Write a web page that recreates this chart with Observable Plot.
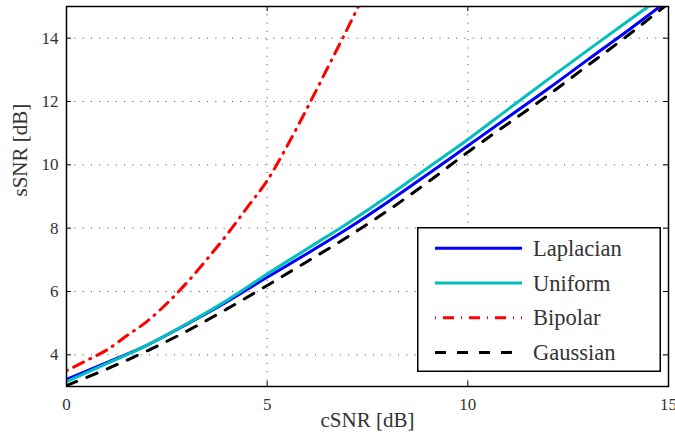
<!DOCTYPE html>
<html><head><meta charset="utf-8">
<script src="https://cdn.jsdelivr.net/npm/d3@7"></script>
<script src="https://cdn.jsdelivr.net/npm/@observablehq/plot@0.6"></script>
<style>
body{margin:0;background:#fff}
#wrap{position:relative;width:675px;height:442px}
#legend{position:absolute;left:417px;top:227px}
#wrap text{font-family:"Liberation Serif" !important}
</style>
</head><body><div id="wrap"></div>
<script>
// ---- data ----
const cSNR = [0,1,2,3,4,5,6,7,8,9,10,11,12,13,14,15];
const laplacian = [3.22,3.75,4.3,4.97,5.68,6.45,7.2,7.98,8.82,9.7,10.6,11.5,12.4,13.33,14.25,15.2];
const uniform   = [3.15,3.72,4.3,4.98,5.72,6.55,7.35,8.15,9.0,9.9,10.8,11.75,12.7,13.63,14.55,15.45];
const gaussian  = [3.03,3.55,4.12,4.75,5.45,6.19,6.95,7.72,8.55,9.45,10.4,11.3,12.2,13.15,14.1,15.1];
const bipolarX  = [0,0.5,1,1.5,2,2.5,3,3.5,4,4.5,5,5.5,6,6.5,7,7.5];
const bipolar   = [3.5,3.82,4.15,4.6,5.05,5.62,6.28,7.02,7.8,8.65,9.5,10.6,11.8,13.05,14.3,15.6];
const seriesNames = ["Laplacian","Uniform","Bipolar","Gaussian"];
const xTicks = [0,5,10,15];
const yTicks = [4,6,8,10,12,14];
const xLabel = "cSNR [dB]";
const yLabel = "sSNR [dB]";

// ---- styles ----
const colors = ["#0000ff","#00bfbf","#ff0000","#000000"];
const dashes = [null,null,"1,7,11,7","11,11"];
const W = 675, H = 442, mt = 6, mb = 56, ml = 66, mr = 7;
const fh = H - mt - mb, fw = W - ml - mr, tl = 5;
const font = "Liberation Serif";

const seriesData = [
  cSNR.map((x,i)=>({x, y: laplacian[i]})),
  cSNR.map((x,i)=>({x, y: uniform[i]})),
  bipolarX.map((x,i)=>({x, y: bipolar[i]})),
  cSNR.map((x,i)=>({x, y: gaussian[i]}))
];

const chart = Plot.plot({
  width: W, height: H,
  marginTop: mt, marginBottom: mb, marginLeft: ml, marginRight: mr,
  style: {fontFamily: font, background: "#fff", color: "#222"},
  x: {domain: [0,15]},
  y: {domain: [3,15]},
  marks: [
    Plot.ruleX(xTicks.slice(1,-1), {stroke: "#444", strokeWidth: 1, strokeDasharray: "1,7.3"}),
    Plot.ruleY(yTicks, {stroke: "#444", strokeWidth: 1, strokeDasharray: "1,7.3"}),
    ...seriesData.map((d,i) => Plot.line(d, {
      x: "x", y: "y", stroke: colors[i], strokeWidth: 3,
      strokeDasharray: dashes[i], curve: "monotone-x", clip: true
    })),
    Plot.tickX(xTicks, {x: d=>d, insetTop: fh - tl, stroke: "#000", strokeWidth: 1}),
    Plot.tickX(xTicks, {x: d=>d, insetBottom: fh - tl, stroke: "#000", strokeWidth: 1}),
    Plot.tickY(yTicks, {y: d=>d, insetRight: fw - tl, stroke: "#000", strokeWidth: 1}),
    Plot.tickY(yTicks, {y: d=>d, insetLeft: fw - tl, stroke: "#000", strokeWidth: 1}),
    Plot.frame({stroke: "#000", strokeWidth: 1.5}),
    Plot.axisX(xTicks, {tickSize: 0, tickPadding: 11, fontSize: 17, label: null, fill: "#333", fontFamily: font}),
    Plot.axisY(yTicks, {tickSize: 0, tickPadding: 8, fontSize: 17, label: null, fill: "#333", fontFamily: font}),
    Plot.text([xLabel], {text: d=>d, frameAnchor: "bottom", dy: 40, fontSize: 21, fill: "#333", fontFamily: font}),
    Plot.text([yLabel], {text: d=>d, frameAnchor: "left", dx: -46, rotate: -90, fontSize: 21, fill: "#333", fontFamily: font})
  ]
});
const wrap = document.getElementById("wrap");
wrap.appendChild(chart);

// ---- legend ----
const lw = 244, lh = 145, rowY0 = 21.3, rowStep = 34.7;
const svg = d3.select(wrap).append("svg").attr("id","legend")
  .attr("width", lw).attr("height", lh);
svg.append("rect").attr("x",0.75).attr("y",0.75).attr("width",lw-1.5).attr("height",lh-1.5)
  .attr("fill","#fff").attr("stroke","#000").attr("stroke-width",1.5);
seriesNames.forEach((name,i) => {
  const y = rowY0 + i*rowStep;
  svg.append("line").attr("x1",18).attr("x2",105).attr("y1",y).attr("y2",y)
    .attr("stroke",colors[i]).attr("stroke-width",3)
    .attr("stroke-dasharray",dashes[i]);
  svg.append("text").attr("x",116).attr("y",y+7.5).text(name)
    .attr("font-family",font).attr("font-size",22.5).attr("fill","#333");
});
</script>
</body></html>
